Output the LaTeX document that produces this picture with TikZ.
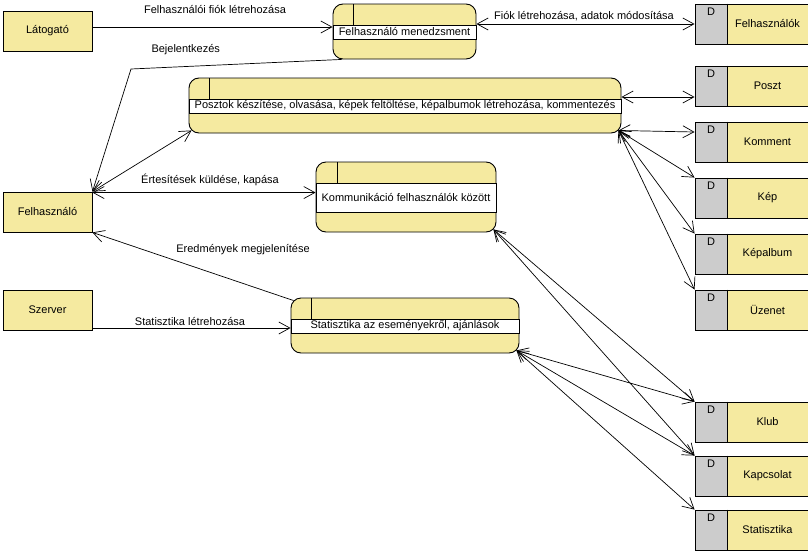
\documentclass[tikz,border=0pt]{standalone}
\usepackage{fontspec}
\setmainfont{Liberation Sans}
\usetikzlibrary{arrows.meta}
\definecolor{dfdyellow}{RGB}{245,234,160}
\definecolor{dfdgrey}{RGB}{204,204,204}
% data store: name, top edge, label
\newcommand\dfdstore[3]{%
  \node[storeid] (#1) at (711,#2+20) {};
  \fill[dfdyellow] (727,#2) rectangle (812,#2+40);
  \draw[edge] (727,#2) -- (812,#2) (727,#2+40) -- (812,#2+40);
  \draw[edge] (#1.north east) -- (#1.south east);
  \node[anchor=north, inner sep=0pt] at ([yshift=-4pt]#1.north) {D};
  \node at (767.5,#2+20) {#3};
}
\begin{document}
\begin{tikzpicture}[x=1pt,y=-1pt,
  every node/.style={font=\fontsize{11}{13}\selectfont},
  edge/.style={line width=0.9pt},
  entity/.style={draw, fill=dfdyellow, line width=0.9pt, minimum width=89pt, minimum height=40pt, inner sep=0pt},
  procbox/.style={draw, fill=dfdyellow, rounded corners=10pt, line width=0.9pt, inner sep=0pt},
  band/.style={draw, fill=white, line width=0.9pt},
  storeid/.style={draw, fill=dfdgrey, line width=0.9pt, minimum width=32pt, minimum height=40pt, inner sep=0pt},
  flow/.style={line width=0.7pt, -{Straight Barb[length=11pt,width=12pt]}},
  dflow/.style={line width=0.7pt, {Straight Barb[length=11pt,width=12pt]}-{Straight Barb[length=11pt,width=12pt]}},
  lbl/.style={inner sep=0pt}
]
\path[use as bounding box, fill=white] (0,0) rectangle (808,554);

% external entities
\node[entity] (lat) at (47.5,31) {Látogató};
\node[entity] (fh) at (47.5,212) {Felhasználó};
\node[entity] (sz) at (47.5,310) {Szerver};

% processes
\node[procbox, minimum width=143pt, minimum height=55pt] (pm) at (404.5,31.5) {};
\draw[band] (333,25) rectangle (476,39);
\draw[edge] (353,4) -- (353,25);
\node at (404.5,32) {Felhasználó menedzsment};

\node[procbox, minimum width=432pt, minimum height=55pt] (pk) at (405,105.5) {};
\draw[band] (189,99) rectangle (621,113);
\draw[edge] (209,78) -- (209,99);
\node at (405,106) {Posztok készítése, olvasása, képek feltöltése, képalbumok létrehozása, kommentezés};

\node[procbox, minimum width=180pt, minimum height=70pt] (kom) at (406,197) {};
\draw[band] (316,183) rectangle (496,212);
\draw[edge] (337,162) -- (337,183);
\node at (406,197.5) {Kommunikáció felhasználók között};

\node[procbox, minimum width=228pt, minimum height=55pt] (st) at (405,325.5) {};
\draw[band] (291,319) rectangle (519,333);
\draw[edge] (311,298) -- (311,319);
\node at (405,326) {Statisztika az eseményekről, ajánlások};

% data stores
\dfdstore{felh}{4}{Felhasználók}
\dfdstore{poszt}{66}{Poszt}
\dfdstore{komment}{122}{Komment}
\dfdstore{kep}{178}{Kép}
\dfdstore{kepalbum}{234}{Képalbum}
\dfdstore{uzenet}{290}{Üzenet}
\dfdstore{klub}{402}{Klub}
\dfdstore{kapcs}{456}{Kapcsolat}
\dfdstore{stat}{510}{Statisztika}

% points on the rounded corners of the processes
\coordinate (pkw) at ([xshift=3pt,yshift=3pt]pk.south west);
\coordinate (pkc) at ([xshift=-3pt,yshift=3pt]pk.south east);
\coordinate (kc) at ([xshift=-3pt,yshift=3pt]kom.south east);
\coordinate (sc) at ([xshift=-3pt,yshift=3pt]st.south east);
\coordinate (stw) at ([xshift=3pt,yshift=-3pt]st.north west);

% data flows
\draw[flow] ([yshift=4pt]lat.east) -- ([yshift=4pt]lat.east -| pm.west)
  node[lbl, midway, xshift=2.5pt, yshift=17pt] {Felhasználói fiók létrehozása};
\draw[flow] ([xshift=9pt]pm.south west) -- (131,69)
  node[lbl, pos=0.74, yshift=17pt] {Bejelentkezés} -- (fh.north east);
\draw[dflow] (fh.north east) -- (pkw);
\draw[dflow] ([yshift=-1pt]fh.north east) -- ([yshift=-1pt]fh.north east -| kom.west)
  node[lbl, midway, xshift=6pt, yshift=13pt] {Értesítések küldése, kapása};
\draw[flow] (stw) -- (fh.south east)
  node[lbl, midway, xshift=50pt, yshift=17pt] {Eredmények megjelenítése};
\draw[flow] ([yshift=-18pt]sz.east) -- ([yshift=-18pt]sz.east -| st.west)
  node[lbl, midway, xshift=-1.5pt, yshift=7pt] {Statisztika létrehozása};

\draw[dflow] (felh.west -| pm.east) -- (felh.west)
  node[lbl, midway, xshift=-1.5pt, yshift=8pt] {Fiók létrehozása, adatok módosítása};
\draw[dflow] ([yshift=-11pt]poszt.west -| pk.east) -- ([yshift=-11pt]poszt.west);
\draw[dflow] (pkc) -- ([yshift=10pt]komment.west);
\draw[dflow] (pkc) -- (kep.north west);
\draw[dflow] (pkc) -- (kepalbum.north west);
\draw[dflow] (pkc) -- (uzenet.north west);

\draw[dflow] (kc) -- (klub.north west);
\draw[dflow] (kc) -- (kapcs.north west);

\draw[dflow] (sc) -- (klub.north west);
\draw[dflow] (sc) -- (kapcs.north west);
\draw[dflow] (sc) -- (stat.north west);
\end{tikzpicture}
\end{document}
